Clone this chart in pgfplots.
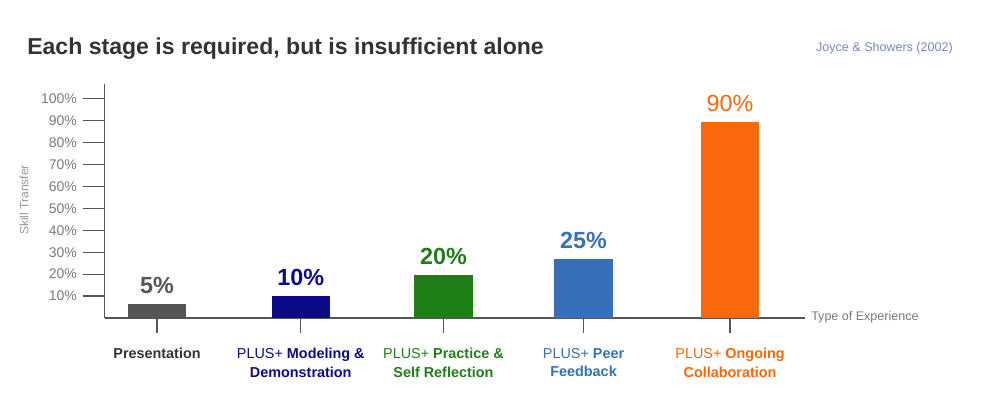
\documentclass[border=0pt]{standalone}
\usepackage{pgfplots}
\pgfplotsset{compat=1.18}
\usepackage{fontspec}
\setmainfont{Liberation Sans}
\definecolor{cPres}{HTML}{555555}
\definecolor{cMod}{HTML}{0D0A8A}
\definecolor{cPrac}{HTML}{1F7F17}
\definecolor{cPeer}{HTML}{3570B9}
\definecolor{cOng}{HTML}{F9680A}
\definecolor{axisgray}{HTML}{555555}
\definecolor{tickgray}{HTML}{7A7A7A}
\definecolor{titlegray}{HTML}{333333}
\definecolor{srcblue}{HTML}{7788C0}
\begin{document}
\begin{tikzpicture}[x=1pt,y=1pt]
\useasboundingbox (0,0) rectangle (750,294.75);
\begin{axis}[
  at={(78.4pt,56.25pt)}, anchor=south west,
  scale only axis, width=525.4pt, height=175.5pt,
  xmin=104.5, xmax=805, ymin=0, ymax=106.8,
  axis lines*=left,
  axis line style={axisgray, line width=1.1pt},
  tick align=outside,
  major tick length=16.5pt,
  tick style={axisgray, line width=0.9pt},
  xtick style={/pgfplots/major tick length=11pt},
  ytick={10,20,...,100},
  yticklabels={10\%,20\%,30\%,40\%,50\%,60\%,70\%,80\%,90\%,100\%},
  yticklabel style={font=\fontsize{10.5}{12}\selectfont, text=tickgray, anchor=east, inner sep=0pt, xshift=-4pt},
  xtick={157,300.7,443.4,583.5,730},
  xticklabels={
    {\textbf{Presentation}},
    {\textcolor{cMod}{PLUS+ \textbf{Modeling \&}}\\\textcolor{cMod}{\textbf{Demonstration}}},
    {\textcolor{cPrac}{PLUS+ \textbf{Practice \&}}\\\textcolor{cPrac}{\textbf{Self Reflection}}},
    {\textcolor{cPeer}{PLUS+ \textbf{Peer}}\\\textcolor{cPeer}{\textbf{Feedback}}},
    {\textcolor{cOng}{PLUS+ \textbf{Ongoing}}\\\textcolor{cOng}{\textbf{Collaboration}}}
  },
  xticklabel style={font=\fontsize{10.8}{13.9}\selectfont, text=titlegray, align=center, anchor=north, inner sep=0pt, yshift=-6pt},
  ybar, bar width=43.8pt, bar shift=0pt,
  point meta=explicit symbolic,
  nodes near coords,
  every node near coord/.style={anchor=base, inner sep=0pt, yshift=8pt, font=\fontsize{17.5}{20}\selectfont\bfseries},
  clip=false,
]
\addplot[fill=cPres, draw=none, every node near coord/.append style={text=cPres}] coordinates {(157,6.2) [5\%]};
\addplot[fill=cMod, draw=none, every node near coord/.append style={text=cMod}] coordinates {(300.7,10) [10\%]};
\addplot[fill=cPrac, draw=none, every node near coord/.append style={text=cPrac}] coordinates {(443.4,19.7) [20\%]};
\addplot[fill=cPeer, draw=none, every node near coord/.append style={text=cPeer}] coordinates {(583.5,26.9) [25\%]};
\addplot[fill=cOng, draw=none, every node near coord/.append style={text=cOng, font=\fontsize{17.5}{20}\selectfont\mdseries}] coordinates {(730,89.6) [90\%]};
\end{axis}
\node[anchor=base west, inner sep=0pt, text=titlegray, font=\fontsize{17.3}{20}\selectfont\bfseries] at (20.25,253.5) {Each stage is required, but is insufficient alone};
\node[anchor=base east, inner sep=0pt, text=srcblue, font=\fontsize{9.4}{11}\selectfont] at (714.75,256) {Joyce \& Showers (2002)};
\node[rotate=90, inner sep=0pt, text=tickgray!80, font=\fontsize{9}{11}\selectfont] at (18,144.75) {Skill Transfer};
\node[anchor=west, inner sep=0pt, text=tickgray, font=\fontsize{9.4}{11}\selectfont] at (608.25,56.5) {Type of Experience};
\end{tikzpicture}
\end{document}
